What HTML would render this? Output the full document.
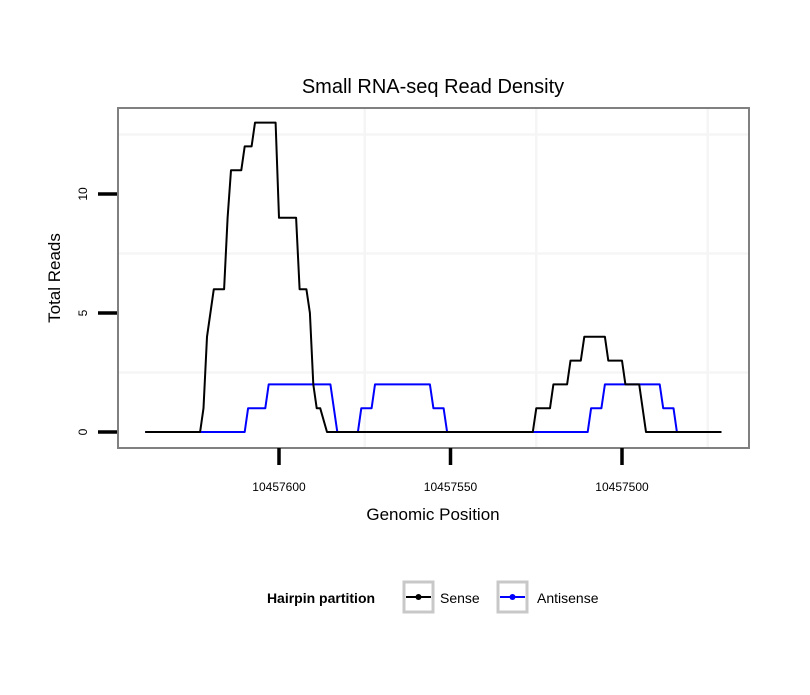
<!DOCTYPE html>
<html><head><meta charset="utf-8"><style>
body{margin:0;background:#fff;font-family:"Liberation Sans",sans-serif}
</style></head><body>
<svg id="chart" width="810" height="690" xmlns="http://www.w3.org/2000/svg" font-family="Liberation Sans, sans-serif">
<rect width="810" height="690" fill="#fff"/>
<text x="433" y="93" text-anchor="middle" font-size="20">Small RNA-seq Read Density</text>
<g id="grid"></g>
<g id="series"></g>
<rect x="118" y="108" width="631" height="340" fill="none" stroke="#808080" stroke-width="2"/>
<g id="axes"></g>
<text x="433" y="520" text-anchor="middle" font-size="17">Genomic Position</text>
<text transform="translate(60,278) rotate(-90)" text-anchor="middle" font-size="17">Total Reads</text>
<g>
<text x="321" y="603" text-anchor="middle" font-size="14" font-weight="bold">Hairpin partition</text>
<g>
<rect x="404" y="582" width="29" height="30" fill="none" stroke="#c8c8c8" stroke-width="3"/>
<line x1="406" y1="597" x2="431" y2="597" stroke="#000" stroke-width="2"/><circle cx="418.5" cy="597" r="3" fill="#000"/>
<text x="440" y="603" font-size="14">Sense</text></g>
<g>
<rect x="498" y="582" width="29" height="30" fill="none" stroke="#c8c8c8" stroke-width="3"/>
<line x1="500" y1="597" x2="525" y2="597" stroke="#00f" stroke-width="2"/><circle cx="512.5" cy="597" r="3" fill="#00f"/>
<text x="537" y="603" font-size="14">Antisense</text></g>
</g>
</svg>
<script>
const senseOffsets=[639,623,622,621,619,616,615,614,611,610,608,608,607,601,600,595,594,592,591,590,589,588,586,526,525,521,520,516,515,512,511,505,504,500,499,495,493,471];
const senseValues=[0,0,1,4,6,6,9,11,11,12,12,12,13,13,9,9,6,6,5,2,1,1,0,0,1,1,2,2,3,3,4,4,3,3,2,2,0,0];
const antiOffsets=[639,610,609,604,603,585,583,577,576,573,572,556,555,552,551,510,509,506,505,489,488,485,484,471];
const antiValues=[0,0,1,1,2,2,0,0,1,1,2,2,1,1,0,0,1,1,2,2,1,1,0,0];
const xTicks=[10457600,10457550,10457500];
const xTickLabels=["10457600","10457550","10457500"];
const yTicks=[0,5,10];
const yTickLabels=["0","5","10"];
const BASE=10457000;
const ns="http://www.w3.org/2000/svg";
function xs(p){return 279+(10457600-p)*3.43;}
function ys(v){return 432-v*23.8;}
function mk(t,a,parent){const e=document.createElementNS(ns,t);for(const k in a)e.setAttribute(k,a[k]);parent.appendChild(e);return e;}
const grid=document.getElementById('grid'),axes=document.getElementById('axes'),series=document.getElementById('series');
for(let i=0;i<xTicks.length;i++){
 const xm=xs(xTicks[i]-25);
 const m=mk('line',{x1:xm,x2:xm,y1:109,y2:447,stroke:'#f5f5f5','stroke-width':2.5},grid);
 
 
}
for(let i=0;i<yTicks.length;i++){
 const ym=ys(yTicks[i]+2.5);
 const m=mk('line',{x1:119,x2:748,y1:ym,y2:ym,stroke:'#f5f5f5','stroke-width':2.5},grid);
 
 
}
function path(offs,vals,color,name){
 const d=offs.map((o,i)=>(i?'L':'M')+xs(BASE+o).toFixed(1)+','+ys(vals[i]).toFixed(1)).join(' ');
 const p=mk('path',{d:d,fill:'none',stroke:color,'stroke-width':2,'stroke-linejoin':'round'},series);
 
 
}
path(antiOffsets,antiValues,'#00f','antisense-line');
path(senseOffsets,senseValues,'#000','sense-line');
for(let i=0;i<xTicks.length;i++){
 const x=xs(xTicks[i]);
 const t=mk('line',{x1:x,x2:x,y1:448,y2:465,stroke:'#000','stroke-width':3.5},axes);
 
 
 const l=mk('text',{x:x,y:491,'text-anchor':'middle','font-size':12},axes);
 l.textContent=xTickLabels[i];
 
 
}
for(let i=0;i<yTicks.length;i++){
 const y=ys(yTicks[i]);
 const t=mk('line',{x1:98,x2:117,y1:y,y2:y,stroke:'#000','stroke-width':3.5},axes);
 
 
 const l=mk('text',{transform:'translate(87,'+y+') rotate(-90)','text-anchor':'middle','font-size':12},axes);
 l.textContent=yTickLabels[i];
 
 
}
</script>
</body></html>
